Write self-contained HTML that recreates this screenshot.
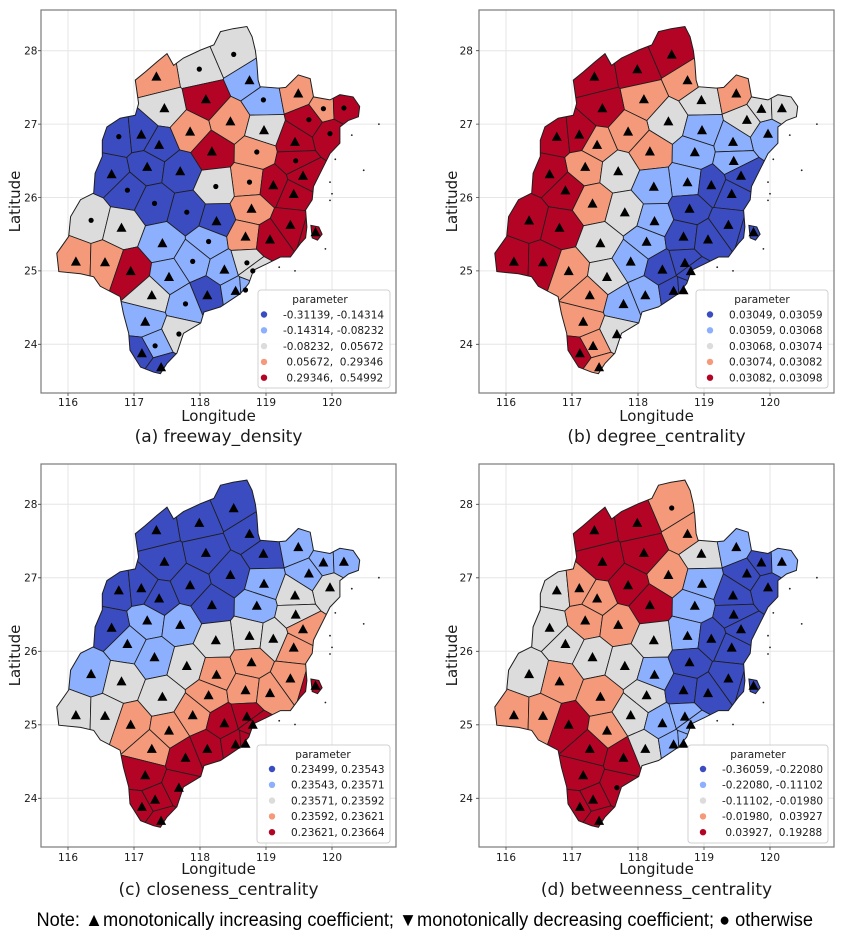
<!DOCTYPE html>
<html><head><meta charset="utf-8">
<style>
html,body{margin:0;padding:0;background:#fff;width:844px;height:936px;overflow:hidden;}
svg{display:block;}
text{font-family:"DejaVu Sans","Liberation Sans",sans-serif;fill:#1a1a1a;}
.tk{font-size:10.5px;}
.lg{font-size:10.5px;white-space:pre;}
.al{font-size:15px;}
.cp{font-size:17px;}
</style></head>
<body>
<svg id="s" width="844" height="936" viewBox="0 0 844 936" xmlns="http://www.w3.org/2000/svg" overflow="hidden">
<defs><clipPath id="fj" clipPathUnits="userSpaceOnUse"><path id="fjp" d=""/></clipPath></defs>
<rect width="844" height="936" fill="#fff"/>

<g stroke="#e6e6e6" stroke-width="1" fill="none">
<path d="M68 10V393M134 10V393M200 10V393M266 10V393M332 10V393M41 50.7H396M41 124.1H396M41 197.5H396M41 270.9H396M41 344.3H396"/>
<path d="M506 10V393M572 10V393M638 10V393M704 10V393M770 10V393M479 50.7H834M479 124.1H834M479 197.5H834M479 270.9H834M479 344.3H834"/>
<path d="M68 464V847M134 464V847M200 464V847M266 464V847M332 464V847M41 504.3H396M41 577.8H396M41 651.3H396M41 724.8H396M41 798.3H396"/>
<path d="M506 464V847M572 464V847M638 464V847M704 464V847M770 464V847M479 504.3H834M479 577.8H834M479 651.3H834M479 724.8H834M479 798.3H834"/>
</g>

<g id="pA" transform="translate(68,50.7)"></g>
<g id="pB" transform="translate(506,50.7)"></g>
<g id="pC" transform="translate(68,504.3)"></g>
<g id="pD" transform="translate(506,504.3)"></g>

<g stroke="#7a7a7a" stroke-width="1.2" fill="none">
<rect x="41" y="10" width="355" height="383"/>
<rect x="479" y="10" width="355" height="383"/>
<rect x="41" y="464" width="355" height="383"/>
<rect x="479" y="464" width="355" height="383"/>
</g>
<g stroke="#444" stroke-width="0.8" fill="none">
<path d="M68 393v3M134 393v3M200 393v3M266 393v3M332 393v3M41 50.7h-3M41 124.1h-3M41 197.5h-3M41 270.9h-3M41 344.3h-3"/>
<path d="M506 393v3M572 393v3M638 393v3M704 393v3M770 393v3M479 50.7h-3M479 124.1h-3M479 197.5h-3M479 270.9h-3M479 344.3h-3"/>
<path d="M68 847v3M134 847v3M200 847v3M266 847v3M332 847v3M41 504.3h-3M41 577.8h-3M41 651.3h-3M41 724.8h-3M41 798.3h-3"/>
<path d="M506 847v3M572 847v3M638 847v3M704 847v3M770 847v3M479 504.3h-3M479 577.8h-3M479 651.3h-3M479 724.8h-3M479 798.3h-3"/>
</g>

<g class="tk" text-anchor="middle">
<text x="68" y="406">116</text><text x="134" y="406">117</text><text x="200" y="406">118</text><text x="266" y="406">119</text><text x="332" y="406">120</text>
<text x="506" y="406">116</text><text x="572" y="406">117</text><text x="638" y="406">118</text><text x="704" y="406">119</text><text x="770" y="406">120</text>
<text x="68" y="861">116</text><text x="134" y="861">117</text><text x="200" y="861">118</text><text x="266" y="861">119</text><text x="332" y="861">120</text>
<text x="506" y="861">116</text><text x="572" y="861">117</text><text x="638" y="861">118</text><text x="704" y="861">119</text><text x="770" y="861">120</text>
</g>
<g class="tk" text-anchor="end">
<text x="37.5" y="54.5">28</text><text x="37.5" y="127.9">27</text><text x="37.5" y="201.3">26</text><text x="37.5" y="274.7">25</text><text x="37.5" y="348.1">24</text>
<text x="473" y="54.5">28</text><text x="473" y="127.9">27</text><text x="473" y="201.3">26</text><text x="473" y="274.7">25</text><text x="473" y="348.1">24</text>
<text x="37.5" y="508.1">28</text><text x="37.5" y="581.6">27</text><text x="37.5" y="655.1">26</text><text x="37.5" y="728.6">25</text><text x="37.5" y="802.1">24</text>
<text x="473" y="508.1">28</text><text x="473" y="581.6">27</text><text x="473" y="655.1">26</text><text x="473" y="728.6">25</text><text x="473" y="802.1">24</text>
</g>

<g class="al" text-anchor="middle">
<text transform="translate(20,201.5) rotate(-90)">Latitude</text>
<text transform="translate(457,201.5) rotate(-90)">Latitude</text>
<text transform="translate(20,655.5) rotate(-90)">Latitude</text>
<text transform="translate(457,655.5) rotate(-90)">Latitude</text>
<text x="218.5" y="421">Longitude</text>
<text x="656.5" y="421">Longitude</text>
<text x="218.5" y="874">Longitude</text>
<text x="656.5" y="874">Longitude</text>
</g>
<g class="cp" text-anchor="middle">
<text x="218.5" y="442">(a) freeway_density</text>
<text x="656.5" y="442">(b) degree_centrality</text>
<text x="218.5" y="895">(c) closeness_centrality</text>
<text x="656.5" y="895">(d) betweenness_centrality</text>
</g>

<g>
<rect x="258" y="290" width="132" height="98" rx="3" fill="#fff" fill-opacity="0.9" stroke="#d0d0d0" stroke-width="1"/>
<text class="lg" x="320" y="303" text-anchor="middle">parameter</text>
<circle cx="264" cy="314.5" r="3.2" fill="#3b4cc0"/><text class="lg" x="283" y="318.3">-0.31139, -0.14314</text>
<circle cx="264" cy="330.3" r="3.2" fill="#8db0fe"/><text class="lg" x="283" y="334.1">-0.14314, -0.08232</text>
<circle cx="264" cy="346.1" r="3.2" fill="#dddcdc"/><text class="lg" x="283" y="349.9">-0.08232,  0.05672</text>
<circle cx="264" cy="361.9" r="3.2" fill="#f49a7b"/><text class="lg" x="283" y="365.7"> 0.05672,  0.29346</text>
<circle cx="264" cy="377.7" r="3.2" fill="#b40426"/><text class="lg" x="283" y="381.5"> 0.29346,  0.54992</text>
</g>
<g>
<rect x="696" y="290" width="132" height="98" rx="3" fill="#fff" fill-opacity="0.9" stroke="#d0d0d0" stroke-width="1"/>
<text class="lg" x="762" y="303" text-anchor="middle">parameter</text>
<circle cx="710" cy="314.5" r="3.2" fill="#3b4cc0"/><text class="lg" x="729" y="318.3">0.03049, 0.03059</text>
<circle cx="710" cy="330.3" r="3.2" fill="#8db0fe"/><text class="lg" x="729" y="334.1">0.03059, 0.03068</text>
<circle cx="710" cy="346.1" r="3.2" fill="#dddcdc"/><text class="lg" x="729" y="349.9">0.03068, 0.03074</text>
<circle cx="710" cy="361.9" r="3.2" fill="#f49a7b"/><text class="lg" x="729" y="365.7">0.03074, 0.03082</text>
<circle cx="710" cy="377.7" r="3.2" fill="#b40426"/><text class="lg" x="729" y="381.5">0.03082, 0.03098</text>
</g>
<g>
<rect x="257" y="745" width="133" height="98" rx="3" fill="#fff" fill-opacity="0.9" stroke="#d0d0d0" stroke-width="1"/>
<text class="lg" x="323" y="758" text-anchor="middle">parameter</text>
<circle cx="272" cy="769" r="3.2" fill="#3b4cc0"/><text class="lg" x="291" y="772.8">0.23499, 0.23543</text>
<circle cx="272" cy="784.8" r="3.2" fill="#8db0fe"/><text class="lg" x="291" y="788.6">0.23543, 0.23571</text>
<circle cx="272" cy="800.6" r="3.2" fill="#dddcdc"/><text class="lg" x="291" y="804.4">0.23571, 0.23592</text>
<circle cx="272" cy="816.4" r="3.2" fill="#f49a7b"/><text class="lg" x="291" y="820.2">0.23592, 0.23621</text>
<circle cx="272" cy="832.2" r="3.2" fill="#b40426"/><text class="lg" x="291" y="836">0.23621, 0.23664</text>
</g>
<g>
<rect x="688" y="745" width="140" height="98" rx="3" fill="#fff" fill-opacity="0.9" stroke="#d0d0d0" stroke-width="1"/>
<text class="lg" x="758" y="758" text-anchor="middle">parameter</text>
<circle cx="703" cy="769" r="3.2" fill="#3b4cc0"/><text class="lg" x="722" y="772.8">-0.36059, -0.22080</text>
<circle cx="703" cy="784.8" r="3.2" fill="#8db0fe"/><text class="lg" x="722" y="788.6">-0.22080, -0.11102</text>
<circle cx="703" cy="800.6" r="3.2" fill="#dddcdc"/><text class="lg" x="722" y="804.4">-0.11102, -0.01980</text>
<circle cx="703" cy="816.4" r="3.2" fill="#f49a7b"/><text class="lg" x="722" y="820.2">-0.01980,  0.03927</text>
<circle cx="703" cy="832.2" r="3.2" fill="#b40426"/><text class="lg" x="722" y="836"> 0.03927,  0.19288</text>
</g>

<text x="36.5" y="926" textLength="776.5" lengthAdjust="spacingAndGlyphs" style="font-family:'Liberation Sans',Arial,sans-serif;font-size:19px;fill:#000">Note: ▲monotonically increasing coefficient; ▼monotonically decreasing coefficient; ● otherwise</text>
</svg>

<script>
(function(){
var C={B:'#3b4cc0',b:'#8db0fe',g:'#dddcdc',o:'#f49a7b',r:'#b40426'};
function X(l){return (l-116)*66;}
function Y(l){return (28-l)*73.4;}
var P=[[118.51,27.95],[117.99,27.75],[117.34,27.65],[118.75,27.60],[118.09,27.34],[118.96,27.33],[117.46,27.22],[119.49,27.42],[119.87,27.21],[120.18,27.22],
[118.46,27.04],[119.65,27.06],[117.85,26.90],[118.97,26.92],[116.77,26.83],[117.11,26.86],[117.38,26.72],[119.97,26.87],[119.44,26.76],[118.18,26.63],
[118.86,26.62],[117.20,26.42],[117.70,26.36],[119.45,26.50],[116.66,26.32],[119.56,26.30],[118.75,26.21],[119.11,26.17],[116.90,26.10],[118.24,26.15],
[119.42,26.05],[117.31,25.92],[117.80,25.80],[116.35,25.69],[116.81,25.59],[118.25,25.68],[118.78,25.85],[119.37,25.63],[119.75,25.53],[117.43,25.38],
[118.13,25.40],[118.69,25.47],[119.06,25.43],[116.12,25.13],[116.56,25.12],[117.89,25.13],[116.95,25.00],[117.53,24.92],[118.37,25.02],[118.71,25.11],
[118.80,25.00],[117.27,24.67],[118.11,24.67],[118.54,24.73],[118.69,24.74],[117.78,24.55],[117.17,24.31],[117.68,24.14],[117.32,23.98],[117.12,23.88],
[117.41,23.69]];
var OUT=[[118.31,28.26],[118.50,28.30],[118.71,28.33],[118.79,28.19],[118.84,28.00],[118.86,27.85],[118.88,27.60],[118.91,27.51],[119.19,27.49],[119.30,27.50],[119.49,27.67],[119.67,27.62],[119.72,27.37],[119.97,27.33],[120.12,27.40],[120.32,27.37],[120.42,27.24],[120.40,27.10],[120.25,27.05],[120.12,26.96],[120.12,26.74],[119.97,26.60],[119.87,26.42],[119.82,26.33],[119.72,26.15],[119.70,25.97],[119.60,25.83],[119.62,25.60],[119.60,25.45],[119.52,25.37],[119.37,25.19],[119.22,25.19],[119.02,25.10],[118.81,25.01],[118.74,24.83],[118.61,24.69],[118.46,24.60],[118.31,24.51],[118.06,24.44],[118.01,24.29],[117.75,24.15],[117.65,23.88],[117.50,23.74],[117.40,23.60],[117.30,23.62],[117.10,23.69],[116.94,23.92],[116.92,24.15],[116.84,24.42],[116.79,24.65],[116.49,24.79],[116.39,24.92],[116.19,24.96],[115.86,24.99],[115.83,25.24],[116.01,25.47],[116.04,25.74],[116.19,25.97],[116.39,26.06],[116.41,26.33],[116.52,26.56],[116.52,26.78],[116.59,26.96],[116.79,27.08],[117.02,27.12],[117.07,27.28],[117.02,27.60],[117.17,27.71],[117.35,27.85],[117.50,27.96],[117.60,27.80],[117.75,27.90],[118.01,28.01],[118.21,28.08]];
var ISL=[[119.68,25.62],[119.80,25.60],[119.85,25.50],[119.78,25.42],[119.70,25.45]];
function pathOf(pts){var s='M';for(var i=0;i<pts.length;i++){s+=(i?'L':'')+X(pts[i][0]).toFixed(1)+' '+Y(pts[i][1]).toFixed(1);}return s+'Z';}
var clipD=pathOf(OUT)+pathOf(ISL);
document.getElementById('fjp').setAttribute('d',clipD);
var pts=P.map(function(p){return [X(p[0]),Y(p[1])];});
function clip(poly,a,b,c){var out=[];for(var i=0;i<poly.length;i++){var p=poly[i],q=poly[(i+1)%poly.length];var fp=a*p[0]+b*p[1]-c,fq=a*q[0]+b*q[1]-c;if(fp<=0)out.push(p);if((fp<0&&fq>0)||(fp>0&&fq<0)){var t=fp/(fp-fq);out.push([p[0]+t*(q[0]-p[0]),p[1]+t*(q[1]-p[1])]);}}return out;}
var cells=pts.map(function(pi,i){var poly=[[-27,-40],[328,-40],[328,342],[-27,342]];for(var j=0;j<pts.length;j++){if(j===i)continue;var pj=pts[j];var a=pj[0]-pi[0],b=pj[1]-pi[1];var mx=(pi[0]+pj[0])/2,my=(pi[1]+pj[1])/2;poly=clip(poly,a,b,a*mx+b*my);if(!poly.length)break;}return poly;});
var specks=[[120.71,27.0],[120.48,26.37],[119.97,26.21],[119.97,25.96],[119.44,25.0],[120.05,26.52],[120.0,26.05],[119.9,25.3],[119.2,25.05],[120.3,26.85]];
function build(id,cols,dots){
 var s='<g clip-path="url(#fj)">';
 for(var i=0;i<cells.length;i++){var c=cells[i];if(!c.length)continue;s+='<polygon points="'+c.map(function(p){return p[0].toFixed(1)+','+p[1].toFixed(1);}).join(' ')+'" fill="'+C[cols.charAt(i)]+'" stroke="#1e1e1e" stroke-width="0.85"/>';}
 s+='</g><path d="'+clipD+'" fill="none" stroke="#1e1e1e" stroke-width="1"/>';
 for(var k=0;k<specks.length;k++){s+='<circle cx="'+X(specks[k][0]).toFixed(1)+'" cy="'+Y(specks[k][1]).toFixed(1)+'" r="0.9" fill="#222"/>';}
 for(var i=0;i<pts.length;i++){var x=pts[i][0],y=pts[i][1];
  if(dots.indexOf(i+1)>=0){s+='<circle cx="'+x.toFixed(1)+'" cy="'+y.toFixed(1)+'" r="2.6" fill="#000"/>';}
  else{s+='<polygon points="'+(x-5).toFixed(1)+','+(y+4.2).toFixed(1)+' '+(x+5).toFixed(1)+','+(y+4.2).toFixed(1)+' '+x.toFixed(1)+','+(y-5).toFixed(1)+'" fill="#000"/>';}
 }
 document.getElementById(id).innerHTML=s;
}
var cA="ggobrbgoor"+"orogBBBrrr"+"oBBrBrorBg"+"rBBggBorrb"+"boroobrbbg"+"ggBbbbbgbB"+"B";
var cB="rrroogrogg"+"ggobrrobbo"+"bogbrBbBrb"+"BogrrbBBBg"+"bBBrrbogBB"+"BobBBbogor"+"o";
var cC="BBBBBBBbbb"+"BbBbBBBggB"+"bbbgBoggbg"+"obgbgooorg"+"oooggooorr"+"rorrrrrrrr"+"r";
var cD="orrorgrbBb"+"oBrbgooBBr"+"booBgBbBgg"+"BgggobBBBo"+"gBBoogrobb"+"brgbbrrrrr"+"r";
build('pA',cA,[1,2,6,9,10,12,15,18,21,24,27,29,30,32,33,34,41,46,50,51,55,56,58,59]);
build('pB',cB,[]);
build('pC',cC,[]);
build('pD',cD,[1,58]);
})();
</script>
</body></html>
